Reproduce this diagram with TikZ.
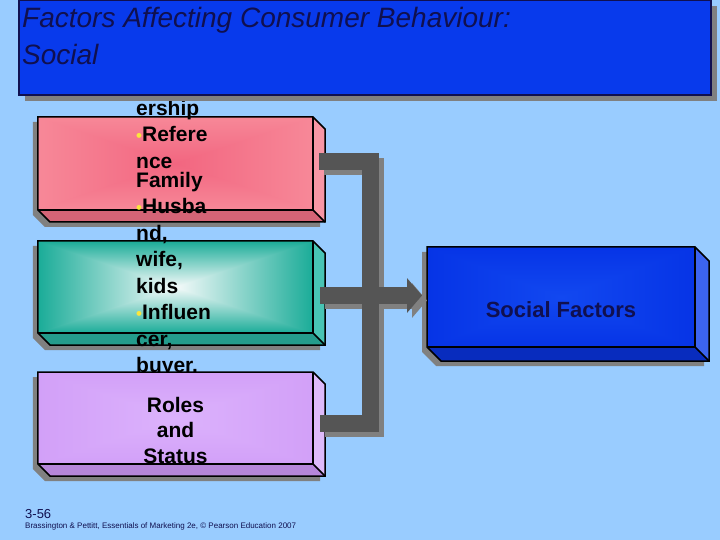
\documentclass[tikz,border=0pt]{standalone}
\usepackage{fontspec}
\setmainfont{Liberation Sans}
\usetikzlibrary{arrows.meta,shadows}

\definecolor{bgblue}{RGB}{153,204,255}
\definecolor{titlefill}{RGB}{8,58,236}
\definecolor{titleink}{RGB}{16,16,80}
\definecolor{boxshadow}{RGB}{128,128,128}
\definecolor{bargray}{RGB}{85,85,85}
\definecolor{dotyellow}{RGB}{250,230,60}
\definecolor{pinkin}{RGB}{242,102,128}
\definecolor{pinkout}{RGB}{247,136,152}
\definecolor{pinkside}{RGB}{248,150,165}
\definecolor{pinkbot}{RGB}{212,100,118}
\definecolor{tealin}{RGB}{245,250,250}
\definecolor{tealout}{RGB}{26,172,152}
\definecolor{tealside}{RGB}{72,196,180}
\definecolor{tealbot}{RGB}{36,156,140}
\definecolor{lilacin}{RGB}{220,178,252}
\definecolor{lilacout}{RGB}{210,160,248}
\definecolor{lilacside}{RGB}{222,186,250}
\definecolor{lilacbot}{RGB}{182,134,218}
\definecolor{bluein}{RGB}{18,72,240}
\definecolor{blueout}{RGB}{6,52,230}
\definecolor{blueside}{RGB}{60,100,240}
\definecolor{bluebot}{RGB}{8,44,190}

\tikzset{
  face/.style={rectangle, inner sep=0pt, outer sep=0pt},
  edge/.style={draw=black, line width=1.5bp, line join=miter},
  listtext/.style={font=\bfseries\fontsize{21bp}{26.5bp}\selectfont, align=left, inner sep=0pt, anchor=north west},
  boxlabel/.style={font=\bfseries\fontsize{21bp}{25.5bp}\selectfont, align=center, inner sep=0pt},
  titlebox/.style={rectangle, fill=titlefill, draw=titleink, line width=2bp, inner sep=0pt,
    minimum width=692bp, minimum height=95bp,
    drop shadow={shadow xshift=6bp, shadow yshift=-6bp, fill=boxshadow, opacity=1}},
  titletext/.style={font=\itshape\fontsize{28bp}{37bp}\selectfont, text=titleink, align=left, inner sep=0pt, anchor=north west},
  bar/.style={line width=17bp, line join=miter}
}

\newcommand{\bul}{{\color{dotyellow}\fontsize{17bp}{17bp}\selectfont\textbullet}}
\newcommand{\slabpath}[2]{(#1.north west) -- (#1.north east) -- ([shift={(#2,#2)}]#1.north east) -- ([shift={(#2,#2)}]#1.south east) -- ([shift={(#2,#2)}]#1.south west) -- (#1.south west) -- cycle}
% node, depth, inner, outer, side, bottom
\newcommand{\slab}[6]{%
  \begin{scope}[transform canvas={shift={(-5,5)}}]
    \fill[boxshadow] \slabpath{#1}{#2};
  \end{scope}
  \shade[left color=#4, right color=#3] (#1.north west) rectangle (#1.south);
  \shade[left color=#3, right color=#4] (#1.north) rectangle (#1.south east);
  \shade[top color=#4, bottom color=#3] (#1.north west) -- (#1.north east) -- (#1.center) -- cycle;
  \shade[top color=#3, bottom color=#4] (#1.south west) -- (#1.south east) -- (#1.center) -- cycle;
  \fill[#5] (#1.north east) -- ++(#2,#2) -- ([shift={(#2,#2)}]#1.south east) -- (#1.south east) -- cycle;
  \fill[#6] (#1.south west) -- (#1.south east) -- ++(#2,#2) -- ([shift={(#2,#2)}]#1.south west) -- cycle;
  \draw[edge] \slabpath{#1}{#2};
  \draw[edge] (#1.north east) -- (#1.south east) -- (#1.south west);
  \draw[edge] (#1.south east) -- ++(#2,#2);
}

\begin{document}
\begin{tikzpicture}[x=1bp,y=-1bp]
  \useasboundingbox (0,0) rectangle (720,540);
  \fill[bgblue] (0,0) rectangle (720,540);

  \node[face, minimum width=275bp, minimum height=93bp] (ref) at (175.5,163.5) {};
  \node[face, minimum width=275bp, minimum height=92bp] (fam) at (175.5,287) {};
  \node[face, minimum width=275bp, minimum height=92bp] (roles) at (175.5,418) {};
  \node[face, minimum width=268bp, minimum height=100bp] (soc) at (561,297) {};

  \slab{ref}{12}{pinkin}{pinkout}{pinkside}{pinkbot}
  \node[listtext] (reftext) at ([shift={(98,-17)}]ref.north west) {ership\\\bul Refere\\nce};
  \slab{fam}{12}{tealin}{tealout}{tealside}{tealbot}
  \node[listtext] (famtext) at ([shift={(98,-69)}]fam.north west)
    {Family\\\bul Husba\\nd,\\wife,\\kids\\\bul Influen\\cer,\\buyer.};
  \slab{roles}{12}{lilacin}{lilacout}{lilacside}{lilacbot}
  \node[boxlabel, anchor=north] (rolestext) at ([yshift=-25bp]roles.north) {Roles\\and\\Status};
  \slab{soc}{14}{bluein}{blueout}{blueside}{bluebot}
  \node[boxlabel, text=titleink, font=\bfseries\fontsize{22bp}{26bp}\selectfont] (soctext) at ([yshift=-13bp]soc.center) {Social Factors};

  % bracket into the arrow
  \coordinate (spine) at (370.5,295.5);
  \coordinate (refout) at ([shift={(6,-2)}]ref.east);
  \coordinate (famout) at ([shift={(7,8.5)}]fam.east);
  \coordinate (rolesout) at ([shift={(7,5)}]roles.east);
  \foreach \off/\col in {5/boxshadow,0/bargray}{
    \begin{scope}[transform canvas={shift={(\off,\off)}}]
      \draw[bar, draw=\col] (refout) -| (spine) |- (rolesout);
      \draw[bar, draw=\col, -{Triangle[length=15bp,width=34bp]}, shorten >=5bp] (famout) -- (famout -| soc.west);
    \end{scope}
  }

  \node[titlebox] (title) at (365,47.5) {};
  \node[titletext] (heading) at ([shift={(4,8)}]title.north west) {Factors Affecting Consumer Behaviour:\\Social};

  \node[anchor=base west, inner sep=0pt, text=titleink, font=\fontsize{13bp}{13bp}\selectfont] (slideno) at (25,518) {3-56};
  \node[anchor=base west, inner sep=0pt, text=titleink, font=\fontsize{8bp}{9bp}\selectfont] (credit) at (25,528)
    {Brassington \& Pettitt, Essentials of Marketing 2e, © Pearson Education 2007};
\end{tikzpicture}
\end{document}
